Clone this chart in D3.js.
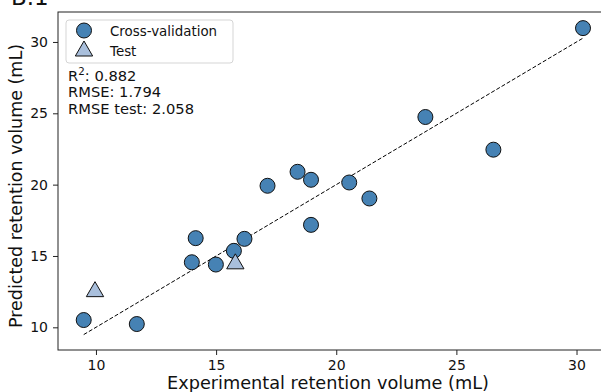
<!DOCTYPE html>
<html>
<head>
<meta charset="utf-8">
<script src="https://cdn.jsdelivr.net/npm/d3@7"></script>
<style>
  body { margin: 0; background: #fff; }
  svg { display: block; font-family: "DejaVu Sans", sans-serif; }
</style>
</head>
<body>
<div id="chart"></div>
<script>
// Cross-validation points (experimental, predicted)
const cvExperimental = [9.49, 11.7, 13.99, 14.15, 14.99, 15.74, 16.18, 17.14, 18.39, 18.95, 18.95, 20.54, 21.38, 23.71, 26.54, 30.27];
const cvPredicted    = [10.51, 10.23, 14.56, 16.25, 14.40, 15.36, 16.2, 19.92, 20.9, 20.34, 17.18, 20.15, 19.03, 24.74, 22.45, 30.97];

// Test points
const testExperimental = [9.96, 15.8];
const testPredicted    = [12.5, 14.45];

const xTicks = [10, 15, 20, 25, 30];
const yTicks = [10, 15, 20, 25, 30];
const statsLines = [['R', '2', ': 0.882'], ['RMSE: 1.794'], ['RMSE test: 2.058']];

const width = 601;
const height = 392;
const margin = { top: 12, right: -7, bottom: 42, left: 58 };
const innerWidth = width - margin.left - margin.right;
const innerHeight = height - margin.top - margin.bottom;

const cv = cvExperimental.map((x, i) => ({ x, y: cvPredicted[i] }));
const test = testExperimental.map((x, i) => ({ x, y: testPredicted[i] }));

const svgRoot = d3.select('#chart')
  .append('svg')
  .attr('width', width)
  .attr('height', height);

const svg = svgRoot.append('g')
  .attr('transform', `translate(${margin.left},${margin.top})`);

const xScale = d3.scaleLinear()
  .domain([8.42, 31.31])
  .range([0, innerWidth]);

const yScale = d3.scaleLinear()
  .domain([8.41, 32.1])
  .range([innerHeight, 0]);

// Frame
svg.append('rect')
  .attr('width', innerWidth)
  .attr('height', innerHeight)
  .attr('fill', 'none')
  .attr('stroke', '#222')
  .attr('stroke-width', 1);

// Identity line over the CV range
const lo = d3.min(cvExperimental);
const hi = d3.max(cvExperimental);
svg.append('line')
  .attr('x1', xScale(lo)).attr('y1', yScale(lo))
  .attr('x2', xScale(hi)).attr('y2', yScale(hi))
  .attr('stroke', '#000')
  .attr('stroke-width', 1)
  .attr('stroke-dasharray', '4,2');

svg.selectAll('.cv')
  .data(cv)
  .enter()
  .append('circle')
  .attr('class', 'cv')
  .attr('cx', d => xScale(d.x))
  .attr('cy', d => yScale(d.y))
  .attr('r', 7.5)
  .attr('fill', '#4682b4')
  .attr('stroke', '#111')
  .attr('stroke-width', 1);

const tri = d3.symbol().type(d3.symbolTriangle).size(130);

svg.selectAll('.test')
  .data(test)
  .enter()
  .append('path')
  .attr('class', 'test')
  .attr('d', tri)
  .attr('transform', d => `translate(${xScale(d.x)},${yScale(d.y)})`)
  .attr('fill', '#a9bfdc')
  .attr('stroke', '#111')
  .attr('stroke-width', 1);

// Axes
const xAxis = svg.append('g')
  .attr('transform', `translate(0,${innerHeight})`)
  .call(d3.axisBottom(xScale).tickValues(xTicks).tickSize(5).tickPadding(5));

const yAxis = svg.append('g')
  .call(d3.axisLeft(yScale).tickValues(yTicks).tickSize(5).tickPadding(5));

[xAxis, yAxis].forEach(ax => {
  ax.select('.domain').remove();
  ax.selectAll('line').attr('stroke', '#222');
  ax.selectAll('text')
    .attr('font-size', '14px')
    .attr('font-family', '"DejaVu Sans", sans-serif')
    .attr('fill', '#111');
});

// Axis titles
svg.append('text')
  .attr('x', innerWidth / 2 - 5)
  .attr('y', innerHeight + 39)
  .attr('text-anchor', 'middle')
  .attr('font-size', '17.7px')
  .attr('fill', '#111')
  .text('Experimental retention volume (mL)');

svg.append('text')
  .attr('transform', 'rotate(-90)')
  .attr('x', -innerHeight / 2 - 5)
  .attr('y', -36)
  .attr('text-anchor', 'middle')
  .attr('font-size', '17.5px')
  .attr('fill', '#111')
  .text('Predicted retention volume (mL)');

// Panel title (clipped at top)
svgRoot.append('text')
  .attr('x', 11)
  .attr('y', 4.5)
  .attr('font-size', '23px')
  .attr('fill', '#111')
  .text('B.1');

// Legend
const legend = svg.append('g').attr('transform', 'translate(8,8)');
legend.append('rect')
  .attr('width', 167)
  .attr('height', 43)
  .attr('rx', 3)
  .attr('fill', '#fff')
  .attr('fill-opacity', 0.8)
  .attr('stroke', '#d5d5d5');

legend.append('circle')
  .attr('cx', 18).attr('cy', 10.5).attr('r', 7.5)
  .attr('fill', '#4682b4').attr('stroke', '#111');
legend.append('path')
  .attr('d', tri)
  .attr('transform', 'translate(18,31)')
  .attr('fill', '#a9bfdc').attr('stroke', '#111');

legend.append('text')
  .attr('x', 44).attr('y', 15.6)
  .attr('font-size', '13.4px').attr('fill', '#111')
  .text('Cross-validation');
legend.append('text')
  .attr('x', 44).attr('y', 35.6)
  .attr('font-size', '13.4px').attr('fill', '#111')
  .text('Test');

// Stats annotation
const stats = svg.append('g')
  .selectAll('text')
  .data(statsLines)
  .enter()
  .append('text')
  .attr('x', 10)
  .attr('y', (d, i) => 68.6 + i * 16.7)
  .attr('font-size', '14.7px')
  .attr('fill', '#111');

stats.each(function(parts) {
  const t = d3.select(this);
  if (parts.length === 1) {
    t.text(parts[0]);
    return;
  }
  t.append('tspan').text(parts[0]);
  t.append('tspan').attr('dy', -5.5).attr('font-size', '10.3px').text(parts[1]);
  t.append('tspan').attr('dy', 5.5).text(parts[2]);
});
</script>
</body>
</html>
